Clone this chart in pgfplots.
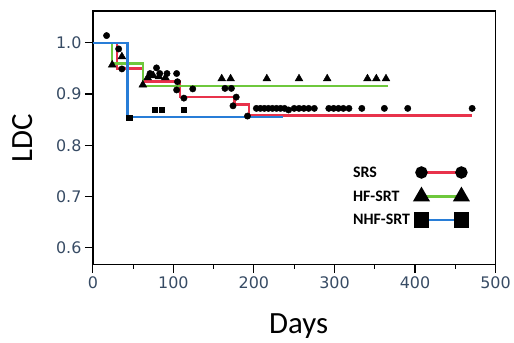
\documentclass[border=0pt]{standalone}
\usepackage{pgfplots}
\pgfplotsset{compat=1.18}
\usepackage{fontspec}
\setmainfont{DejaVu Sans}
\newfontfamily\calfont{Carlito}
\definecolor{srs}{RGB}{232,50,75}
\definecolor{hf}{RGB}{110,200,60}
\definecolor{nhf}{RGB}{40,125,215}
\definecolor{tickc}{RGB}{55,75,100}
\begin{document}
\begin{tikzpicture}
\begin{axis}[
  scale only axis, width=403bp, height=254bp,
  xmin=0, xmax=500, ymin=0.567, ymax=1.062,
  xtick={0,100,200,300,400,500}, minor x tick num=1,
  ytick={0.6,0.7,0.8,0.9,1.0},
  tick pos=left, tick align=outside,
  major tick length=8bp, minor tick length=4bp,
  every tick/.style={black, line width=1.1bp},
  axis line style={black, line width=1.4bp},
  /pgf/number format/assume math mode=true,
  ticklabel style={font=\fontsize{16}{16}\selectfont, color=tickc},
  y tick label style={/pgf/number format/fixed, /pgf/number format/fixed zerofill, /pgf/number format/precision=1},
  xlabel={Days}, ylabel={LDC},
  label style={font=\calfont\fontsize{31}{31}\selectfont, black},
  xlabel style={at={(axis description cs:0.511,-0.272)}, anchor=base},
  ylabel style={at={(axis description cs:-0.175,0.5)}, anchor=center},
  legend style={draw=none, fill=none, at={(rel axis cs:0.932,0.270)}, anchor=east,
    inner sep=0pt, row sep=9.5bp, column sep=5bp,
    font=\calfont\bfseries\fontsize{16}{16}\selectfont,
    nodes={text height=12bp, text depth=2bp, inner sep=0pt}},
  legend cell align=left, legend plot pos=right,
  legend image code/.code={\draw[#1] plot coordinates {(0bp,0bp) (40bp,0bp)};},
]
% legend entries
\addlegendimage{srs, line width=2.4bp, mark=*, mark size=5bp, mark options={black, fill=black, solid}}
\addlegendentry{SRS}
\addlegendimage{hf, line width=2.4bp, mark=triangle*, mark size=7.5bp, mark options={black, fill=black, solid}}
\addlegendentry{HF-SRT}
\addlegendimage{nhf, line width=2.4bp, mark=square*, mark size=6.5bp, mark options={black, fill=black, solid}}
\addlegendentry{NHF-SRT}

% step curves
\addplot[srs, line width=2.5bp, const plot, forget plot] coordinates {
(0,1.0) (30,0.95) (62,0.924) (108,0.894) (176,0.880) (194,0.858) (471,0.858)};
\addplot[hf, line width=2.5bp, const plot, forget plot] coordinates {
(0,1.0) (24,0.96) (62,0.916) (366,0.916)};
\addplot[nhf, line width=2.5bp, const plot, forget plot] coordinates {
(0,1.0) (43,0.855) (236,0.855)};

% SRS censored marks
\addplot[only marks, mark=*, mark size=3.2bp, black, forget plot] coordinates {
(17,1.014) (32,0.988) (36,0.949) (79,0.951) (71,0.94) (83,0.94) (92,0.94) (104,0.94)
(105,0.924) (104,0.908) (124,0.91) (113,0.892) (164,0.911) (172,0.911) (178,0.894)
(174,0.877) (192,0.857)
(203,0.872) (208,0.872) (213,0.872) (218,0.872) (223,0.872) (228,0.872) (233,0.872)
(238,0.872) (243,0.869) (250,0.872) (256,0.872) (262,0.872) (268,0.872) (275,0.872)
(293,0.872) (299,0.872) (305,0.872) (311,0.872) (318,0.872) (334,0.872) (362,0.872)
(391,0.872) (471,0.872)};

% HF-SRT censored marks
\addplot[only marks, mark=triangle*, mark size=4.5bp, black, forget plot] coordinates {
(24,0.957) (36,0.973) (62,0.918) (68,0.932) (75,0.936) (82,0.934) (90,0.932)
(160,0.930) (171,0.930) (216,0.930) (256,0.930) (291,0.930) (341,0.930) (352,0.930) (364,0.930)};

% NHF-SRT censored marks
\addplot[only marks, mark=square*, mark size=2.6bp, black, forget plot] coordinates {
(45,0.854) (77,0.869) (85,0.869) (113,0.869)};
\end{axis}
\path (current axis.south west) ++(-93bp,-76bp);
\path (current axis.north east) ++(18bp,11bp);
\end{tikzpicture}
\end{document}
